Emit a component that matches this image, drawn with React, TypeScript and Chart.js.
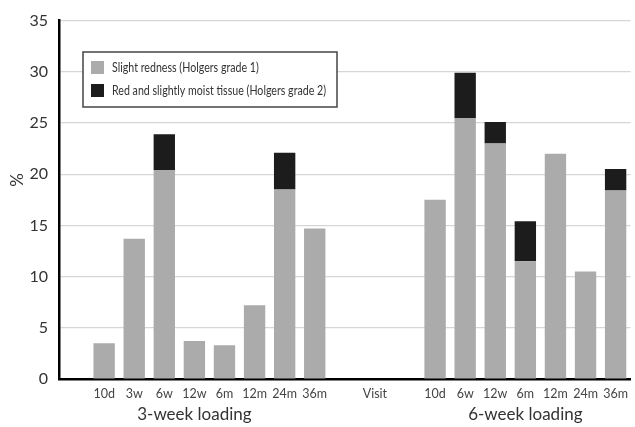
import React, { useEffect, useRef } from "react";
import { Chart, registerables } from "chart.js";

Chart.register(...registerables);

const categories = ["", "10d", "3w", "6w", "12w", "6m", "12m", "24m", "36m", "", "Visit", "", "10d", "6w", "12w", "6m", "12m", "24m", "36m"];
const grade1 = [null, 3.5, 13.7, 20.4, 3.7, 3.3, 7.2, 18.5, 14.7, null, null, null, 17.5, 25.5, 23.0, 11.5, 22.0, 10.5, 18.4];
const grade2 = [null, null, null, 3.5, null, null, null, 3.6, null, null, null, null, null, 4.4, 2.1, 3.9, null, null, 2.1];
const seriesNames = ["Slight redness (Holgers grade 1)", "Red and slightly moist tissue (Holgers grade 2)"];
const seriesColors = ["#ababab", "#1c1c1c"];
const groupLabels = ["3-week loading", "6-week loading"];
const groupCenterIndex = [4, 15];
const yTicks = [0, 5, 10, 15, 20, 25, 30, 35];

const FONT = "Lato, 'Open Sans', sans-serif";

const overlayPlugin = {
  id: "overlay",
  afterDraw(chart: any) {
    const ctx = chart.ctx;
    const x = chart.scales.x;
    ctx.save();
    // group labels
    ctx.fillStyle = "#333";
    ctx.font = `17px ${FONT}`;
    ctx.textAlign = "center";
    ctx.textBaseline = "middle";
    groupLabels.forEach((g, i) => {
      ctx.fillText(g, x.getPixelForValue(groupCenterIndex[i]), 415);
    });
    // y title
    ctx.save();
    ctx.translate(18, 180);
    ctx.rotate(-Math.PI / 2);
    ctx.fillText("%", 0, 0);
    ctx.restore();
    // legend
    const bx = 83, by = 52, bw = 254, bh = 55;
    ctx.fillStyle = "#fff";
    ctx.fillRect(bx, by, bw, bh);
    ctx.strokeStyle = "#444";
    ctx.lineWidth = 1.5;
    ctx.strokeRect(bx, by, bw, bh);
    ctx.font = `13.5px ${FONT}`;
    ctx.textAlign = "left";
    const widest = Math.max(...seriesNames.map((n) => ctx.measureText(n).width));
    const sx = Math.min(1, 214 / widest);
    seriesNames.forEach((n, i) => {
      const cy = 68 + i * 23;
      ctx.fillStyle = seriesColors[i];
      ctx.fillRect(91, cy - 7, 13, 13);
      ctx.fillStyle = "#333";
      ctx.save();
      ctx.translate(112, cy);
      ctx.scale(sx, 1);
      ctx.fillText(n, 0, 0);
      ctx.restore();
    });
    ctx.restore();
  },
};

export default function App() {
  const ref = useRef<HTMLCanvasElement>(null);
  useEffect(() => {
    const chart = new Chart(ref.current!, {
      type: "bar",
      data: {
        labels: categories,
        datasets: [
          { label: seriesNames[0], data: grade1 as any, backgroundColor: seriesColors[0], borderWidth: 0 },
          { label: seriesNames[1], data: grade2 as any, backgroundColor: seriesColors[1], borderWidth: 0 },
        ],
      },
      options: {
        animation: false,
        responsive: false,
        maintainAspectRatio: false,
        layout: { padding: { top: 6, right: 0, left: 0, bottom: 0 } },
        datasets: { bar: { categoryPercentage: 1, barPercentage: 0.71 } },
        plugins: { legend: { display: false }, tooltip: { enabled: false } },
        scales: {
          x: {
            stacked: true,
            grid: { display: false, drawTicks: false },
            border: { display: true, color: "#000", width: 2.5 },
            ticks: { color: "#444", font: { family: FONT, size: 12.5 }, padding: 7, autoSkip: false, maxRotation: 0 },
            afterFit: (s: any) => { s.height = 48; },
          },
          y: {
            stacked: true,
            min: 0,
            max: 35,
            afterBuildTicks: (s: any) => { s.ticks = yTicks.map((v) => ({ value: v })); },
            grid: { color: "#d6d6d6", lineWidth: 1.2, drawTicks: false },
            border: { display: true, color: "#000", width: 2.5 },
            ticks: { color: "#333", font: { family: FONT, size: 16 }, padding: 11 },
            afterFit: (s: any) => { s.width = 59; },
          },
        },
      },
      plugins: [overlayPlugin],
    });
    return () => chart.destroy();
  }, []);
  return (
    <div style={{ position: "fixed", left: 0, top: 0, width: 635, height: 427, background: "#fff" }}>
      <canvas ref={ref} width={635} height={427} style={{ width: 635, height: 427 }} />
    </div>
  );
}
